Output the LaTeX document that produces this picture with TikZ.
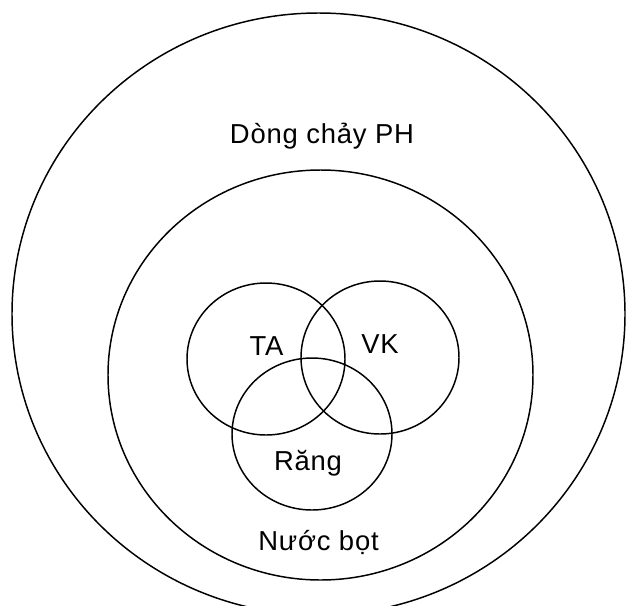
\documentclass[tikz,border=0pt]{standalone}
\usepackage{fontspec}
\setmainfont{Liberation Sans}
\begin{document}
\begin{tikzpicture}[x=0.05cm,y=-0.05cm,
  ring/.style={draw=black,line width=2.1pt},
  lbl/.style={font=\fontsize{39}{42}\selectfont\addfontfeatures{LetterSpace=3},
              anchor=base,inner sep=0pt,text=black}]
  % canvas
  \fill[white] (0,0) rectangle (627,605);
  \useasboundingbox (0,0) rectangle (627,605);
  \clip (0,0) rectangle (627,605);

  % nested regions
  \draw[ring] (318.5,314) ellipse [x radius=306.5,y radius=301];
  \draw[ring] (320.5,375) ellipse [x radius=212.5,y radius=205];

  % three overlapping sets
  \draw[ring] (266,359)   ellipse [x radius=79,y radius=76];
  \draw[ring] (380,357.5) ellipse [x radius=79,y radius=76.5];
  \draw[ring] (312,434)   ellipse [x radius=80,y radius=76];

  % labels
  \node[lbl] (flow)   at (322,143)   {Dòng chảy PH};
  \node[lbl] (ta)     at (266.5,355) {TA};
  \node[lbl] (vk)     at (380,353)   {VK};
  \node[lbl] (rang)   at (308,470)   {Răng};
  \node[lbl] (saliva) at (318.5,550) {Nước bọt};
\end{tikzpicture}
\end{document}
